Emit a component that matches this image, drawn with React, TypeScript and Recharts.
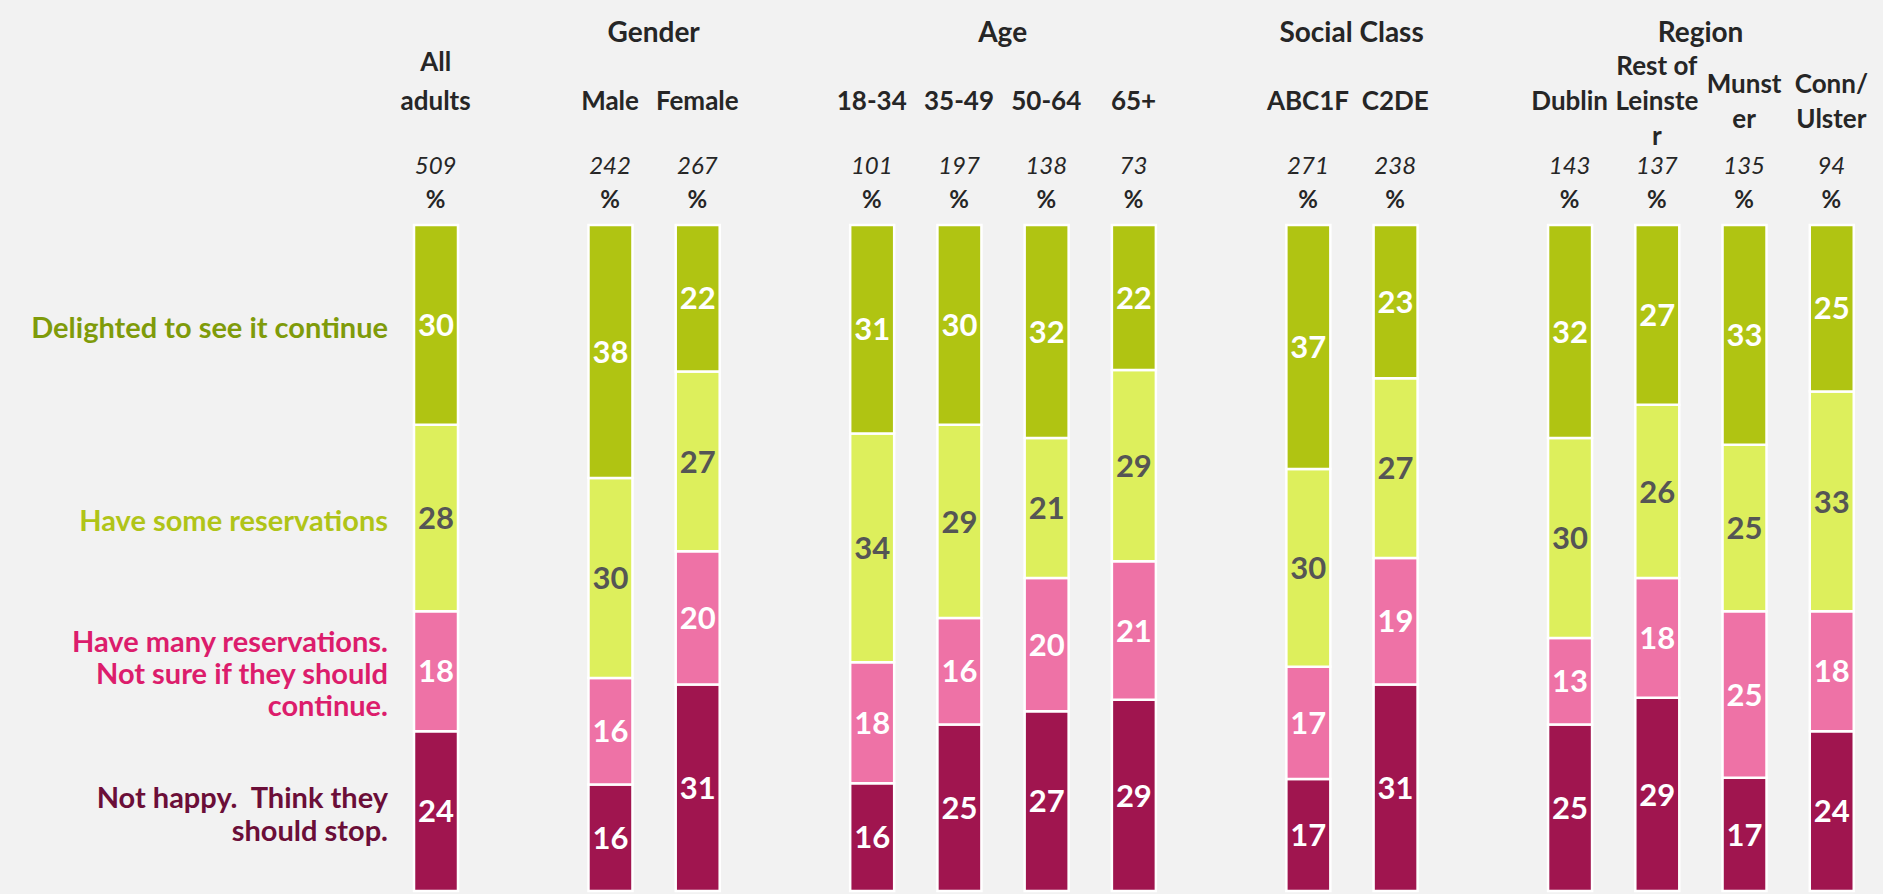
import { Bar, BarChart, LabelList, XAxis, YAxis } from 'recharts'

// categories in order, grouped; gaps between groups are spacer slots
const groupNames = ['', 'Gender', 'Age', 'Social Class', 'Region']
const groupMembers = [
  ['All adults'],
  ['Male', 'Female'],
  ['18-34', '35-49', '50-64', '65+'],
  ['ABC1F', 'C2DE'],
  ['Dublin', 'Rest of Leinster', 'Munster', 'Conn/Ulster'],
]
const categories = groupMembers.flat()
const tickLines: Record<string, string[]> = {
  'All adults': ['All', 'adults'],
  'Rest of Leinster': ['Rest of', 'Leinste', 'r'],
  Munster: ['Munst', 'er'],
  'Conn/Ulster': ['Conn/', 'Ulster'],
}
const bases = [509, 242, 267, 101, 197, 138, 73, 271, 238, 143, 137, 135, 94]

const delighted = [30, 38, 22, 31, 30, 32, 22, 37, 23, 32, 27, 33, 25]
const someReservations = [28, 30, 27, 34, 29, 21, 29, 30, 27, 30, 26, 25, 33]
const manyReservations = [18, 16, 20, 18, 16, 20, 21, 17, 19, 13, 18, 25, 18]
const notHappy = [24, 16, 31, 16, 25, 27, 29, 17, 31, 25, 29, 17, 24]

// bottom of the stack first
const series = [
  {
    key: 'notHappy',
    name: ['Not happy.  Think they', 'should stop.'],
    fill: '#A0154F',
    nameColor: '#6B0E38',
    valueColor: '#ffffff',
    lineGap: 33,
  },
  {
    key: 'manyReservations',
    name: ['Have many reservations.', 'Not sure if they should', 'continue.'],
    fill: '#EE72A6',
    nameColor: '#DC1D6C',
    valueColor: '#ffffff',
    lineGap: 32,
  },
  {
    key: 'someReservations',
    name: ['Have some reservations'],
    fill: '#DDEF5C',
    nameColor: '#B0C418',
    valueColor: '#555555',
    lineGap: 30,
  },
  {
    key: 'delighted',
    name: ['Delighted to see it continue'],
    fill: '#B0C412',
    nameColor: '#7F9B0A',
    valueColor: '#ffffff',
    lineGap: 30,
  },
]

type Row = {
  name: string
  base?: number
  group?: string
  groupSpan?: number
  delighted?: number | null
  someReservations?: number | null
  manyReservations?: number | null
  notHappy?: number | null
}

const rows: Row[] = []
groupMembers.forEach((members, g) => {
  if (g > 0) rows.push({ name: '' })
  members.forEach((m, j) => {
    const i = categories.indexOf(m)
    rows.push({
      name: m,
      base: bases[i],
      group: j === 0 ? groupNames[g] : undefined,
      groupSpan: members.length,
      delighted: delighted[i],
      someReservations: someReservations[i],
      manyReservations: manyReservations[i],
      notHappy: notHappy[i],
    })
  })
})

const W = 1883
const H = 894
const PLOT_LEFT = 392
const PLOT_RIGHT = 1875
const PLOT_TOP = 225
const PLOT_BOTTOM = 891
const AXIS_H = 200
const SLOT = (PLOT_RIGHT - PLOT_LEFT) / rows.length
const FONT = 'Lato, "Open Sans", sans-serif'
const TEXT = '#262626'

function CategoryTick(props: any) {
  const { x, payload } = props
  const row = rows[payload.index]
  if (!row || !row.name) return null
  const lines = tickLines[row.name] || [row.name]
  let ys: number[]
  if (!row.group && row.groupSpan === 1 && lines.length > 1) {
    ys = lines.map((_, i) => 101 - (lines.length - 1 - i) * 39)
  } else {
    ys = lines.map((_, i) => 101 + (i - (lines.length - 1) / 2) * 35)
  }
  const gx = x + ((row.groupSpan || 1) - 1) / 2 * SLOT
  return (
    <g fontFamily={FONT} fill={TEXT} textAnchor="middle">
      {row.group ? (
        <text x={gx} y={32} dy="0.35em" fontSize={28} fontWeight={700}>
          {row.group}
        </text>
      ) : null}
      {lines.map((l, i) => (
        <text key={i} x={x} y={ys[i]} dy="0.35em" fontSize={26} fontWeight={700}>
          {l}
        </text>
      ))}
      <text x={x} y={166} dy="0.35em" fontSize={24} fontStyle="italic">
        {row.base}
      </text>
      <text x={x} y={200} dy="0.35em" fontSize={24} fontWeight={700}>
        %
      </text>
    </g>
  )
}

function makeLabel(s: (typeof series)[number]) {
  return (props: any) => {
    const vb = props.viewBox || {}
    const x = props.x ?? vb.x
    const y = props.y ?? vb.y
    const width = props.width ?? vb.width
    const height = props.height ?? vb.height
    const { value, index } = props
    if (value === null || value === undefined || value === '') return null
    const cx = x + width / 2
    const cy = y + height / 2
    return (
      <g fontFamily={FONT} fontWeight={700}>
        <text x={cx} y={cy} dy="0.36em" textAnchor="middle" fontSize={31} fill={s.valueColor}>
          {value}
        </text>
        {index === 0
          ? s.name.map((l, i) => (
              <text
                key={i}
                x={x - 26}
                y={cy + 3 + (i - (s.name.length - 1) / 2) * s.lineGap}
                dy="0.35em"
                textAnchor="end"
                fontSize={29}
                fill={s.nameColor}
                style={{ whiteSpace: 'pre' }}
              >
                {l}
              </text>
            ))
          : null}
      </g>
    )
  }
}

export default function App() {
  return (
    <div style={{ position: 'absolute', left: 0, top: 0, width: W, height: H, background: '#F2F2F2' }}>
      <BarChart
        width={W}
        height={H}
        data={rows}
        stackOffset="expand"
        margin={{ top: PLOT_TOP - AXIS_H, left: PLOT_LEFT, right: W - PLOT_RIGHT, bottom: H - PLOT_BOTTOM }}
      >
        <XAxis
          dataKey="name"
          orientation="top"
          height={AXIS_H}
          axisLine={false}
          tickLine={false}
          interval={0}
          tick={<CategoryTick />}
        />
        <YAxis hide domain={[0, 1]} />
        {series.map((s) => (
          <Bar
            key={s.key}
            dataKey={s.key}
            stackId="a"
            fill={s.fill}
            stroke="#ffffff"
            strokeWidth={2.5}
            barSize={44}
            isAnimationActive={false}
          >
            <LabelList dataKey={s.key} content={makeLabel(s)} />
          </Bar>
        ))}
      </BarChart>
    </div>
  )
}
